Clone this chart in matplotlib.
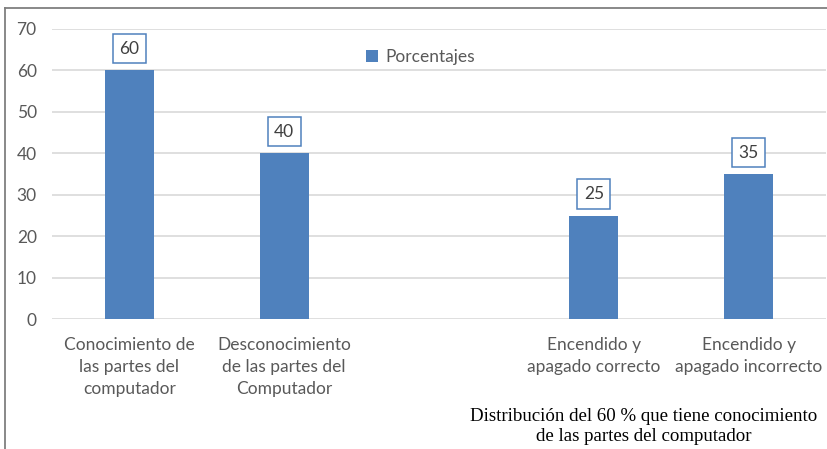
import numpy as np
import matplotlib
matplotlib.use("Agg")
import matplotlib.pyplot as plt
from matplotlib.lines import Line2D

categories = [
    "Conocimiento de\nlas partes del\ncomputador",
    "Desconocimiento\nde las partes del\nComputador",
    "",
    "Encendido y\napagado correcto",
    "Encendido y\napagado incorrecto",
]
values = [60, 40, None, 25, 35]
series_name = "Porcentajes"
yticks = [0, 10, 20, 30, 40, 50, 60, 70]
note = "Distribución del 60 % que tiene conocimiento\nde las partes del computador"

BLUE = "#4F81BD"
GRID = "#D9D9D9"
LABEL = "#595959"
FS = 12.5

plt.rcParams["font.family"] = ["Lato", "DejaVu Sans"]

fig = plt.figure(figsize=(8.28, 4.49), dpi=100)
W, H = 828, 449
ax = fig.add_axes([52 / W, 1 - 319.3 / H, 774 / W, 290.5 / H])

xs = [i for i, v in enumerate(values) if v is not None]
hs = [v for v in values if v is not None]
ax.bar(xs, hs, width=0.316, color=BLUE, label=series_name, zorder=3)

for x, v in zip(xs, hs):
    ax.annotate(str(v), xy=(x, v), xytext=(0, 15.5), textcoords="offset points",
                ha="center", va="center", fontsize=FS, color="#404040", zorder=4,
                bbox=dict(boxstyle="square,pad=0.38", fc="white", ec=BLUE, lw=1.1))

ax.set_xlim(-0.5, len(categories) - 0.5)
ax.set_ylim(0, 70)
ax.set_yticks(yticks)
ax.set_xticks(range(len(categories)))
ax.set_xticklabels(categories, linespacing=1.45)
ax.tick_params(axis="both", length=0, labelsize=FS, labelcolor=LABEL)
ax.tick_params(axis="y", pad=11)
ax.tick_params(axis="x", pad=13)
ax.grid(axis="y", color=GRID, lw=1.2, zorder=0)
for s in ax.spines.values():
    s.set_visible(False)

ax.legend(loc="center", bbox_to_anchor=(0.476, 0.903), frameon=False,
          handlelength=0.7, handleheight=0.7, handletextpad=0.4,
          borderpad=0, fontsize=FS, labelcolor=LABEL)

fig.text(644 / W, 1 - 426.5 / H, note, ha="center", va="center",
         family="Liberation Serif", fontsize=13.6, color="black", linespacing=1.22)

fig.add_artist(Line2D([5 / W, 1], [1 - 8.3 / H] * 2, color="#7F7F7F", lw=1.3))
fig.add_artist(Line2D([5 / W] * 2, [0, 1 - 8.3 / H], color="#7F7F7F", lw=1.3))

fig.savefig("out.png", dpi=100, facecolor="white")
